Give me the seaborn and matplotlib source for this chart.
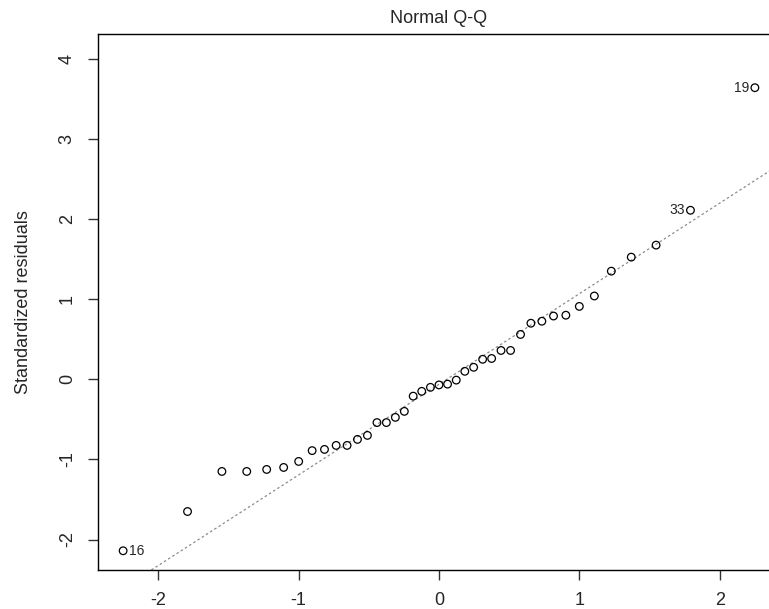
import numpy as np
import pandas as pd
import seaborn as sns
import matplotlib
matplotlib.use("Agg")
import matplotlib.pyplot as plt

# theoretical quantiles (n = 41), lower half, mirrored for the upper half
lower_q = [-2.251, -1.792, -1.547, -1.370, -1.228, -1.107, -1.000, -0.904,
           -0.816, -0.733, -0.655, -0.581, -0.510, -0.442, -0.375, -0.311,
           -0.247, -0.184, -0.123, -0.061]
theo = lower_q + [0.0] + [-v for v in reversed(lower_q)]

# sorted standardized residuals
resid = [-2.14, -1.65, -1.15, -1.15, -1.125, -1.10, -1.025, -0.89, -0.875,
         -0.825, -0.825, -0.75, -0.70, -0.54, -0.54, -0.475, -0.40, -0.21,
         -0.15, -0.10, -0.07, -0.06, -0.01, 0.10, 0.15, 0.25, 0.26, 0.36,
         0.36, 0.56, 0.70, 0.725, 0.79, 0.80, 0.91, 1.04, 1.35, 1.525,
         1.675, 2.11, 3.64]

labels = {0: "16", 39: "33", 40: "19"}

df = pd.DataFrame({"theo": theo, "resid": resid})

sns.set_style("ticks")
plt.rcParams["font.family"] = ["Liberation Sans", "DejaVu Sans"]

fig = plt.figure(figsize=(7.69, 6.09), dpi=100)
ax = fig.add_axes([98 / 769, 39 / 609, 682 / 769, 536 / 609])

# qq line through the quartiles
q1, q3 = np.percentile(resid, [25, 75])
slope = (q3 - q1) / (0.6745 * 2)
inter = q1 + slope * 0.6745
ax.axline((0, inter), slope=slope, color="#8c8c8c", lw=0.9,
          linestyle=(0, (2, 2)), zorder=1)

sns.scatterplot(data=df, x="theo", y="resid", ax=ax, s=30,
                facecolor="none", edgecolor="black", linewidth=0.9, zorder=2)

for i, txt in labels.items():
    if i == 0:
        ax.annotate(txt, (theo[i], resid[i]), xytext=(4, 0),
                    textcoords="offset points", ha="left", va="center",
                    fontsize=10)
    else:
        ax.annotate(txt, (theo[i], resid[i]), xytext=(-4, 0),
                    textcoords="offset points", ha="right", va="center",
                    fontsize=10)

ax.set_xlim(-2.43, 2.43)
ax.set_ylim(-2.38, 4.31)
ax.set_xticks([-2, -1, 0, 1, 2])
ax.set_yticks([-2, -1, 0, 1, 2, 3, 4])
ax.set_xticklabels(["-2", "-1", "0", "1", "2"])
ax.set_yticklabels(["-2", "-1", "0", "1", "2", "3", "4"], rotation=90,
                   va="center")
ax.tick_params(direction="out", length=7, width=1, labelsize=13,
               color="#333333")
ax.tick_params(axis="x", pad=9)
ax.tick_params(axis="y", pad=9)
for sp in ax.spines.values():
    sp.set_visible(True)
    sp.set_color("black")
    sp.set_linewidth(1)

ax.set_xlabel("")
ax.set_ylabel("Standardized residuals", fontsize=13, labelpad=19)
ax.set_title("Normal Q-Q", fontsize=13, pad=8)

fig.savefig("out.png", dpi=100)
